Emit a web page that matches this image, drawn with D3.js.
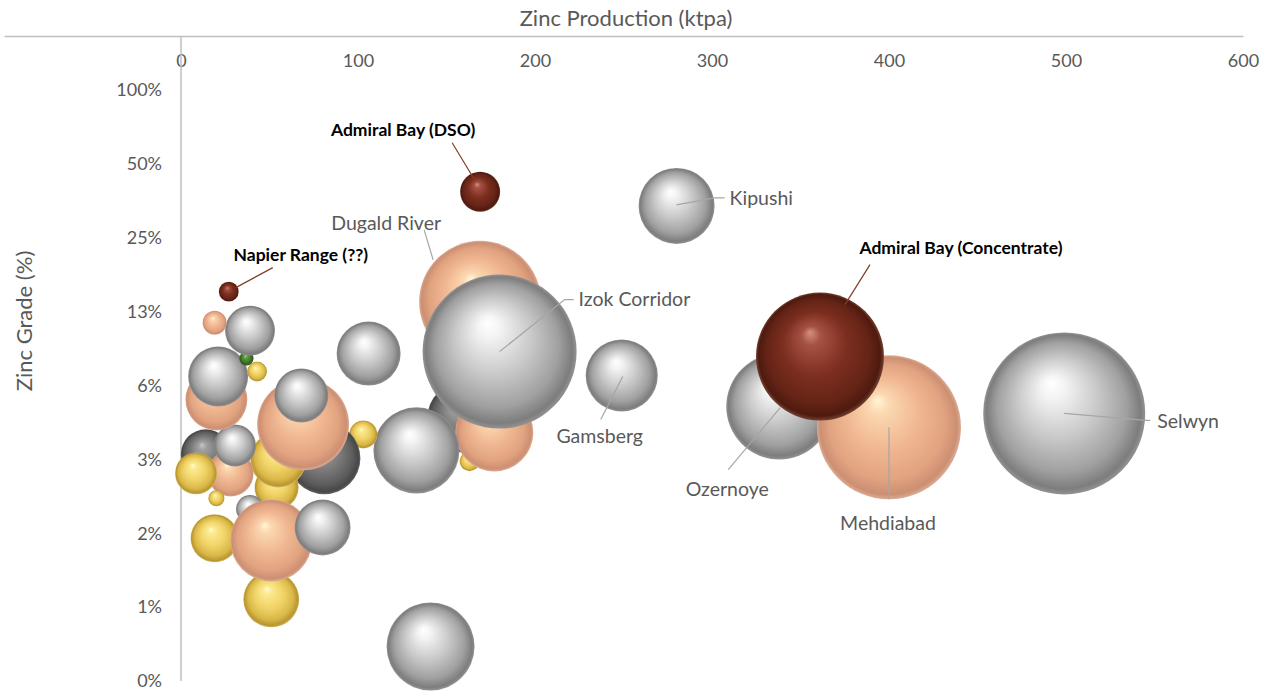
<!DOCTYPE html>
<html>
<head>
<meta charset="utf-8">
<script src="https://cdn.jsdelivr.net/npm/d3@7"></script>
<style>
  body { margin: 0; background: #fff; }
  text { font-family: Lato, "Open Sans", sans-serif; }
</style>
</head>
<body>
<svg id="canvas" width="1262" height="691"></svg>
<script>
// one entry per deposit, drawn back to front
const names = [
  "Ozernoye", "Mehdiabad", "Admiral Bay (Concentrate)", "Selwyn", "Kipushi", "Gamsberg",
  "Dugald River", "", "", "", "Izok Corridor", "", "", "", "",
  "", "", "", "", "", "", "", "", "", "",
  "", "", "", "", "", "", "", "", "", "",
  "", "Napier Range (??)", "Admiral Bay (DSO)"
];
const production = [
  338, 400, 361, 499, 280, 249,
  169, 159, 163, 177, 180, 133, 106, 141, 103,
  81, 54, 55, 69, 68, 39, 51, 19, 51, 80,
  14, 28, 20, 8.5, 30.5, 20, 21, 37, 43, 39,
  19, 27, 169
];
const grade = [
  5.13, 4.22, 8.2, 4.81, 33.7, 6.86,
  13.7, 4.63, 3.07, 4.02, 8.59, 3.4, 8.43, 0.54, 3.95,
  3.16, 2.4, 3.12, 4.34, 5.69, 1.96, 0.84, 1.49, 1.46, 1.65,
  3.28, 2.74, 2.17, 2.74, 3.56, 5.48, 6.8, 8.05, 7.13, 10.46,
  11.27, 15.08, 38.5
];
const size = [
  4.28, 7.9, 6.24, 10, 2.2, 1.98,
  5.67, 1.87, 0.15, 2.32, 9.04, 2.82, 1.56, 2.95, 0.3,
  1.98, 0.74, 1.19, 3.22, 1.11, 0.3, 1.19, 0.88, 2.56, 1.19,
  0.95, 0.81, 0.1, 0.67, 0.67, 1.46, 1.37, 0.075, 0.15, 0.95,
  0.22, 0.15, 0.61
];
const metal = [
  "silver", "copper", "darkred", "silver", "silver", "silver",
  "copper", "darkgray", "gold", "copper", "silver", "silver", "silver", "silver", "gold",
  "darkgray", "gold", "gold", "copper", "silver", "silver", "gold", "gold", "copper", "silver",
  "darkgray", "copper", "gold", "gold", "silver", "copper", "silver", "green", "gold", "silver",
  "copper", "darkred", "darkred"
];
const xTicks = [0, 100, 200, 300, 400, 500, 600];
const yTicks = [100, 50, 25, 12.5, 6.25, 3.125, 1.5625, 0.78125, 0.390625];

const canvas = d3.select("#canvas");

const xScale = d3.scaleLinear().domain([-100, 600]).range([4, 1243]);
const yScale = d3.scaleLog().base(2).domain([0.390625, 100]).range([681, 90]);
const rScale = d3.scaleSqrt().domain([0, 10]).range([0, 81]);
const axisTop = 36;

// sphere shading
const shades = {
  silver: [[0, "#ffffff"], [0.14, "#f4f4f4"], [0.5, "#c8c8c8"], [0.8, "#a0a0a0"], [0.95, "#7d7d7d"], [1, "#939393"]],
  copper: [[0, "#fff6d4"], [0.15, "#fbd7b0"], [0.5, "#f0b792"], [0.8, "#e1a380"], [0.95, "#cc8f72"], [1, "#dcab94"]],
  gold: [[0, "#fffbd2"], [0.15, "#fbea90"], [0.5, "#f1d468"], [0.8, "#dab848"], [0.95, "#b99630"], [1, "#d2b866"]],
  darkred: [[0, "#d4917f"], [0.15, "#a55143"], [0.5, "#7c2e1f"], [0.8, "#652416"], [0.95, "#4e1a0f"], [1, "#74402f"]],
  darkgray: [[0, "#c8c8c8"], [0.15, "#a2a2a2"], [0.5, "#7c7c7c"], [0.8, "#5e5e5e"], [0.95, "#474747"], [1, "#656565"]],
  green: [[0, "#a0d080"], [0.3, "#5a9a3a"], [0.8, "#3a6a20"], [1, "#2a4a18"]]
};
const defs = canvas.append("defs");
Object.keys(shades).forEach((key) => {
  const grad = defs.append("radialGradient")
    .attr("id", "g-" + key)
    .attr("cx", "50%").attr("cy", "50%").attr("r", "50%")
    .attr("fx", "42%").attr("fy", "31%");
  shades[key].forEach((s) => {
    grad.append("stop").attr("offset", s[0]).attr("stop-color", s[1]);
  });
});

// axes
const xAxis = d3.axisBottom(xScale).tickValues(xTicks).tickSize(0).tickSizeOuter(0).tickPadding(18);
const xg = canvas.append("g").attr("transform", "translate(0," + axisTop + ")").call(xAxis);
xg.select(".domain").attr("stroke", "#bfbfbf").attr("stroke-width", 1.5);
xg.selectAll("text").attr("fill", "#595959").style("font-size", "18px");

const yAxis = d3.axisLeft(yScale).tickValues(yTicks).tickSize(0).tickPadding(19)
  .tickFormat((d) => Math.round(d) + "%");
const yg = canvas.append("g").attr("transform", "translate(" + xScale(0) + ",0)").call(yAxis);
yg.select(".domain").remove();
yg.selectAll("text").attr("fill", "#595959").style("font-size", "18px");
canvas.append("line")
  .attr("x1", xScale(0)).attr("x2", xScale(0))
  .attr("y1", axisTop).attr("y2", yScale(0.390625))
  .attr("stroke", "#bfbfbf").attr("stroke-width", 1.5);

canvas.append("text")
  .attr("x", 626).attr("y", 26)
  .attr("text-anchor", "middle")
  .attr("fill", "#595959").style("font-size", "22px")
  .text("Zinc Production (ktpa)");
canvas.append("text")
  .attr("transform", "translate(32,321) rotate(-90)")
  .attr("text-anchor", "middle")
  .attr("fill", "#595959").style("font-size", "22px")
  .text("Zinc Grade (%)");

// bubbles
const points = names.map((n, i) => ({
  name: n, x: production[i], y: grade[i], s: size[i], metal: metal[i]
}));

canvas.append("g")
  .selectAll("circle")
  .data(points)
  .enter()
  .append("circle")
  .attr("cx", (d) => xScale(d.x))
  .attr("cy", (d) => yScale(d.y))
  .attr("r", (d) => rScale(d.s))
  .attr("fill", (d) => "url(#g-" + d.metal + ")");

// data labels: text offset and leader path, relative to bubble centre
const labelLayout = {
  "Admiral Bay (DSO)": { dx: -77, dy: -56, anchor: "middle", bold: true, path: [[-28, -49], [-5, -11]] },
  "Napier Range (??)": { dx: 72, dy: -31, anchor: "middle", bold: true, path: [[44, -24], [7, -4]] },
  "Admiral Bay (Concentrate)": { dx: 141, dy: -103, anchor: "middle", bold: true, path: [[50, -92], [25, -52]] },
  "Dugald River": { dx: -94, dy: -72, anchor: "middle", path: [[-56, -72], [-47, -42]] },
  "Izok Corridor": { dx: 79, dy: -46, anchor: "start", path: [[0, 0], [65, -52], [74, -52]] },
  "Kipushi": { dx: 53, dy: -1, anchor: "start", path: [[0, -1], [38, -8], [48, -8]] },
  "Gamsberg": { dx: -22, dy: 67, anchor: "middle", path: [[1, 1], [-21, 44]] },
  "Ozernoye": { dx: -52, dy: 89, anchor: "middle", path: [[1, 1], [-51, 63]] },
  "Mehdiabad": { dx: -1, dy: 103, anchor: "middle", path: [[0, 0], [0, 72]] },
  "Selwyn": { dx: 93, dy: 15, anchor: "start", path: [[0, 0], [82, 7], [86, 7]] }
};

const labelled = points.filter((d) => labelLayout[d.name]);
const lab = canvas.append("g");
labelled.forEach((d) => {
  const L = labelLayout[d.name];
  const cx = xScale(d.x), cy = yScale(d.y);
  lab.append("path")
    .attr("d", d3.line()(L.path.map((p) => [cx + p[0], cy + p[1]])))
    .attr("fill", "none")
    .attr("stroke", L.bold ? "#843c26" : "#a6a6a6")
    .attr("stroke-width", 1.2);
  lab.append("text")
    .attr("x", cx + L.dx).attr("y", cy + L.dy)
    .attr("text-anchor", L.anchor)
    .attr("fill", L.bold ? "#000" : "#595959")
    .style("font-size", L.bold ? "17.5px" : "19.5px")
    .style("font-weight", L.bold ? "bold" : "normal")
    .text(d.name);
});
</script>
</body>
</html>
